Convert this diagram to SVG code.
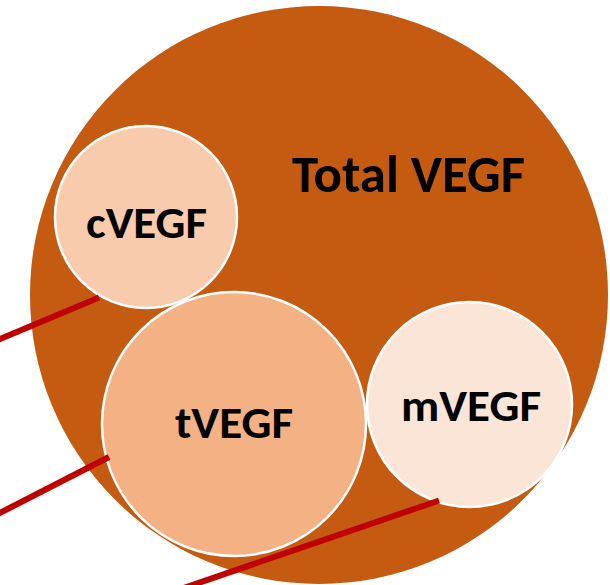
<svg xmlns="http://www.w3.org/2000/svg" width="610" height="585" viewBox="0 0 610 585">
  <style>
    .sub { stroke: #FFFFFF; stroke-width: 2.5; }
    .lbl { font-family: Carlito, "Liberation Sans", Arial, sans-serif; font-weight: bold; fill: #000000; text-anchor: middle; }
    .conn { stroke: #C00000; stroke-width: 6; fill: none; }
  </style>
  <rect width="610" height="585" fill="#FFFFFF"/>
  <g id="total">
    <circle cx="319" cy="295" r="289" fill="#C55A11"/>
    <text class="lbl" x="408.5" y="192" font-size="52" textLength="233" lengthAdjust="spacingAndGlyphs">Total VEGF</text>
  </g>
  <g id="cVEGF">
    <circle class="sub" cx="146" cy="217" r="91" fill="#F8CBAD"/>
    <text class="lbl" x="146.5" y="238" font-size="44" textLength="121" lengthAdjust="spacingAndGlyphs">cVEGF</text>
  </g>
  <g id="tVEGF">
    <circle class="sub" cx="234" cy="424" r="132" fill="#F4B183"/>
    <text class="lbl" x="234" y="438" font-size="44" textLength="118" lengthAdjust="spacingAndGlyphs">tVEGF</text>
  </g>
  <g id="mVEGF">
    <circle class="sub" cx="469.5" cy="404.5" r="102.5" fill="#FBE5D6"/>
    <text class="lbl" x="471" y="421" font-size="44" textLength="140" lengthAdjust="spacingAndGlyphs">mVEGF</text>
  </g>
  <g id="connectors">
    <line class="conn" x1="-5" y1="341" x2="99" y2="297.5"/>
    <line class="conn" x1="-5" y1="515.5" x2="109" y2="457"/>
    <line class="conn" x1="439" y1="500.5" x2="175" y2="591"/>
  </g>
</svg>
